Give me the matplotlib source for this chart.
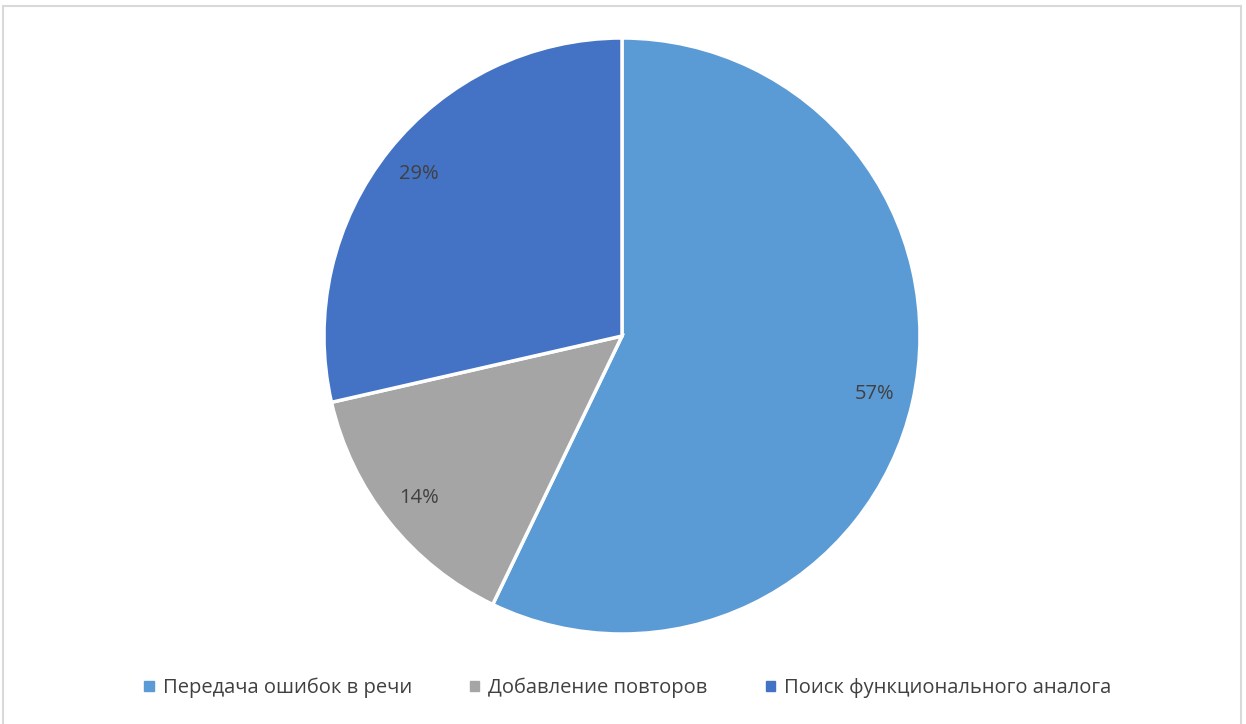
import matplotlib.pyplot as plt
from matplotlib.patches import Rectangle
from matplotlib.lines import Line2D

labels = ['Передача ошибок в речи', 'Добавление повторов', 'Поиск функционального аналога']
shares = [4, 1, 2]
colors = ['#5B9BD5', '#A5A5A5', '#4472C4']

plt.rcParams['font.family'] = ['Open Sans', 'DejaVu Sans']

fig = plt.figure(figsize=(12.46, 7.24), dpi=100)
ax = fig.add_axes([324 / 1246, 90 / 724, 596 / 1246, 596 / 724])

wedges, texts, autotexts = ax.pie(
    shares, colors=colors, startangle=90, counterclock=False,
    autopct='%1.0f%%', pctdistance=0.87, radius=1,
    wedgeprops=dict(edgecolor='white', linewidth=2.5),
    textprops=dict(color='#404040', fontsize=14.5))
ax.set_xlim(-1, 1)
ax.set_ylim(-1, 1)
ax.set_aspect('equal')

# frame on left, top and right like the chart area border
border = dict(transform=fig.transFigure, color='#D9D9D9', lw=1.5)
fig.add_artist(Line2D([3 / 1246, 3 / 1246], [0, 1 - 6 / 724], **border))
fig.add_artist(Line2D([3 / 1246, 1241 / 1246], [1 - 6 / 724, 1 - 6 / 724], **border))
fig.add_artist(Line2D([1241 / 1246, 1241 / 1246], [0, 1 - 6 / 724], **border))

handles = [Rectangle((0, 0), 1, 1, color=c) for c in colors]
leg = fig.legend(handles, labels, loc='center', ncol=3, frameon=False,
                 bbox_to_anchor=(628 / 1246, 1 - 688 / 724),
                 handlelength=0.45, handleheight=0.45, handletextpad=0.45,
                 columnspacing=2.9, fontsize=14.5)
for t in leg.get_texts():
    t.set_color('#404040')

fig.savefig('out.png', dpi=100, facecolor='white')
